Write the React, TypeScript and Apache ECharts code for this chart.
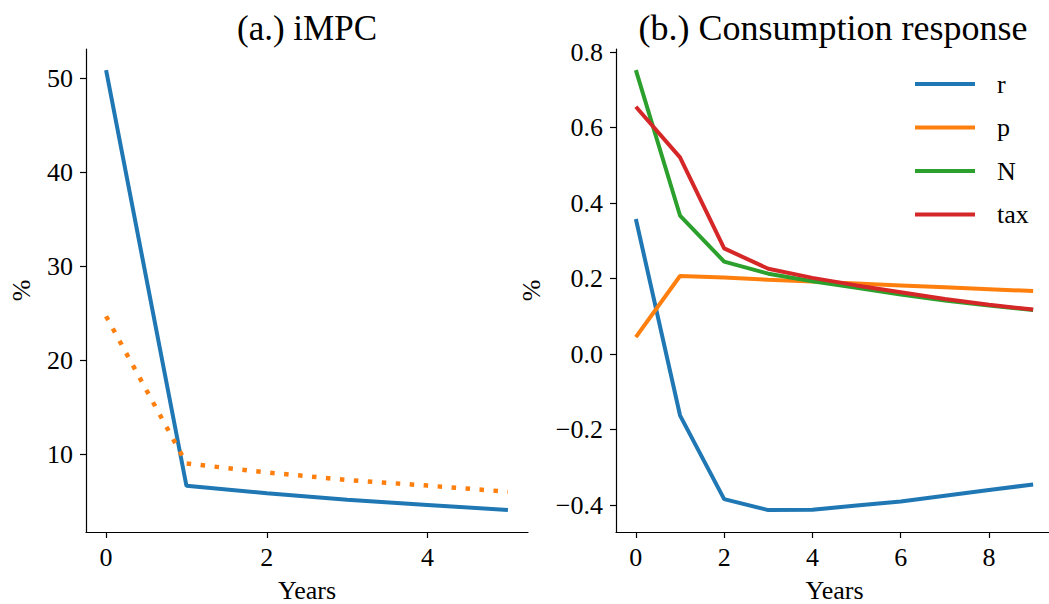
import React, { useEffect, useRef } from "react";
import * as echarts from "echarts";

const yearsA = [0, 1, 2, 3, 4, 5];
const impcSolid = [50.85, 6.68, 5.9, 5.2, 4.65, 4.1];
const impcDotted = [24.7, 9.05, 8.1, 7.3, 6.7, 6.05];

const yearsB = [0, 1, 2, 3, 4, 5, 6, 7, 8, 9];
const rResp = [0.358, -0.162, -0.384, -0.413, -0.412, -0.401, -0.39, -0.375, -0.36, -0.345];
const pResp = [0.045, 0.207, 0.203, 0.197, 0.192, 0.187, 0.182, 0.177, 0.172, 0.167];
const nResp = [0.752, 0.367, 0.245, 0.213, 0.193, 0.176, 0.158, 0.142, 0.129, 0.117];
const taxResp = [0.655, 0.521, 0.28, 0.226, 0.202, 0.182, 0.164, 0.146, 0.131, 0.118];

const ticksXA = [0, 2, 4];
const ticksYA = [10, 20, 30, 40, 50];
const ticksXB = [0, 2, 4, 6, 8];
const ticksYB = [-0.4, -0.2, 0, 0.2, 0.4, 0.6, 0.8];

const FONT = "Liberation Serif";
const BLUE = "#1f77b4";
const ORANGE = "#ff7f0e";
const GREEN = "#2ca02c";
const RED = "#d62728";

const zip = (xs: number[], ys: number[]) => xs.map((x, i) => [x, ys[i]]);

function axisCommon(ticks: number[], fmt: (v: number) => string, margin: number) {
  return {
    type: "value" as const,
    splitLine: { show: false },
    axisLine: { show: true, onZero: false, lineStyle: { color: "#000", width: 1.2 } },
    axisTick: { show: true, inside: false, length: 6, customValues: ticks, lineStyle: { color: "#000", width: 1.2 } },
    axisLabel: {
      customValues: ticks,
      formatter: (v: number) => fmt(v),
      color: "#000",
      fontFamily: FONT,
      fontSize: 26,
      margin,
    },
    nameTextStyle: { color: "#000", fontFamily: FONT, fontSize: 26 },
  };
}

export default function App() {
  const ref = useRef<HTMLDivElement>(null);
  useEffect(() => {
    if (!ref.current) return;
    const chart = echarts.init(ref.current, null, { renderer: "svg" });
    const fmtInt = (v: number) => String(Math.round(v));
    const fmtDec = (v: number) => v.toFixed(1).replace("-", "\u2212");
    chart.setOption({
      animation: false,
      backgroundColor: "#fff",
      textStyle: { fontFamily: FONT, color: "#000" },
      grid: [
        { left: 86, top: 49, width: 442, height: 483, containLabel: false, outerBoundsMode: "none" },
        { left: 616, top: 49, width: 437, height: 483, containLabel: false, outerBoundsMode: "none" },
      ],
      xAxis: [
        {
          ...axisCommon(ticksXA, fmtInt, 12),
          gridIndex: 0,
          min: -0.25,
          max: 5.25,
          name: "Years",
          nameLocation: "middle",
          nameGap: 45,
        },
        {
          ...axisCommon(ticksXB, fmtInt, 12),
          gridIndex: 1,
          min: -0.45,
          max: 9.45,
          name: "Years",
          nameLocation: "middle",
          nameGap: 45,
        },
      ],
      yAxis: [
        {
          ...axisCommon(ticksYA, fmtInt, 13),
          gridIndex: 0,
          min: 1.77,
          max: 53.1,
          name: "%",
          nameLocation: "middle",
          nameGap: 52,
        },
        {
          ...axisCommon(ticksYB, fmtDec, 13),
          gridIndex: 1,
          min: -0.471,
          max: 0.808,
          name: "%",
          nameLocation: "middle",
          nameGap: 72,
        },
      ],
      legend: {
        data: ["r", "p", "N", "tax"],
        orient: "vertical",
        left: 915,
        top: 71,
        padding: 0,
        itemWidth: 60,
        itemHeight: 26,
        itemGap: 17.5,
        icon: "path://M0,11 L60,11 L60,15 L0,15 Z",
        textStyle: { color: "#000", fontFamily: FONT, fontSize: 26, padding: [0, 0, 0, 17] },
      },
      graphic: [
        {
          type: "text",
          x: 307,
          y: 28,
          style: { text: "(a.) iMPC", fontSize: 35, fontFamily: FONT, fill: "#000", align: "center", verticalAlign: "middle" },
        },
        {
          type: "text",
          x: 833,
          y: 28,
          style: { text: "(b.) Consumption response", fontSize: 36, fontFamily: FONT, fill: "#000", align: "center", verticalAlign: "middle" },
        },
      ],
      series: [
        {
          type: "line",
          xAxisIndex: 0,
          yAxisIndex: 0,
          data: zip(yearsA, impcSolid),
          showSymbol: false,
          symbol: "none",
          lineStyle: { color: BLUE, width: 4 },
          itemStyle: { color: BLUE },
        },
        {
          type: "line",
          xAxisIndex: 0,
          yAxisIndex: 0,
          data: zip(yearsA, impcDotted),
          showSymbol: false,
          symbol: "none",
          lineStyle: { color: ORANGE, width: 4.5, type: [4.5, 9.5], cap: "butt" },
          itemStyle: { color: ORANGE },
        },
        {
          name: "r",
          type: "line",
          xAxisIndex: 1,
          yAxisIndex: 1,
          data: zip(yearsB, rResp),
          showSymbol: false,
          symbol: "none",
          lineStyle: { color: BLUE, width: 4 },
          itemStyle: { color: BLUE },
        },
        {
          name: "p",
          type: "line",
          xAxisIndex: 1,
          yAxisIndex: 1,
          data: zip(yearsB, pResp),
          showSymbol: false,
          symbol: "none",
          lineStyle: { color: ORANGE, width: 4 },
          itemStyle: { color: ORANGE },
        },
        {
          name: "N",
          type: "line",
          xAxisIndex: 1,
          yAxisIndex: 1,
          data: zip(yearsB, nResp),
          showSymbol: false,
          symbol: "none",
          lineStyle: { color: GREEN, width: 4 },
          itemStyle: { color: GREEN },
        },
        {
          name: "tax",
          type: "line",
          xAxisIndex: 1,
          yAxisIndex: 1,
          data: zip(yearsB, taxResp),
          showSymbol: false,
          symbol: "none",
          lineStyle: { color: RED, width: 4 },
          itemStyle: { color: RED },
        },
      ],
    });
    return () => chart.dispose();
  }, []);
  return (
    <div
      ref={ref}
      style={{ position: "fixed", left: 0, top: 0, width: 1049, height: 604, background: "#fff" }}
    />
  );
}
